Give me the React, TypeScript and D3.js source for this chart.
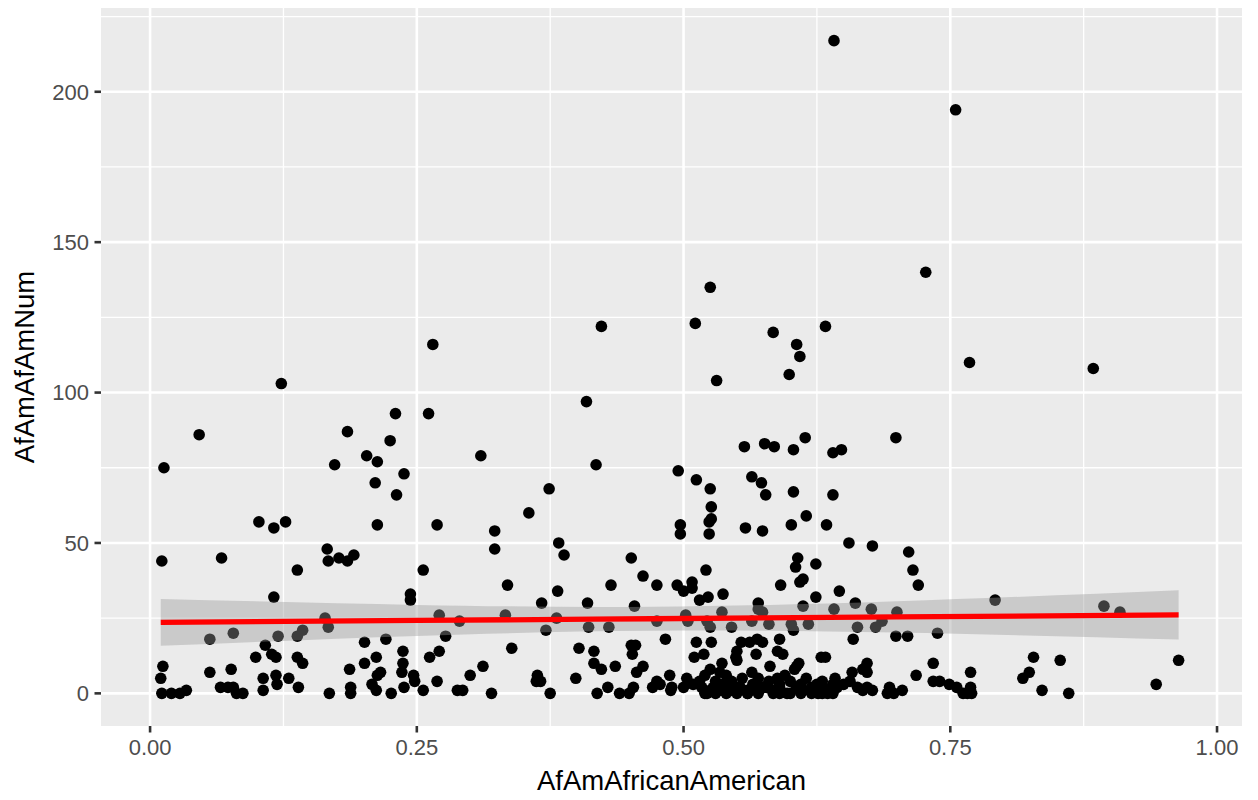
import React, { useEffect, useRef } from 'react';
import * as d3 from 'd3';

// share of African American residents (x) and count (y)
const afAmShare = [
  0.641, 0.755, 0.727, 0.525, 0.511, 0.423, 0.633, 0.584, 0.265, 0.606, 0.609, 0.768, 0.884, 0.599, 0.531, 0.123,
  0.046, 0.013, 0.102, 0.116, 0.127,
  0.230, 0.261, 0.185, 0.225, 0.203, 0.213, 0.173, 0.310, 0.238, 0.211, 0.231, 0.213, 0.269, 0.166,
  0.409, 0.418, 0.495, 0.374, 0.355, 0.323, 0.383, 0.497, 0.497, 0.323,
  0.557, 0.576, 0.585, 0.603, 0.614, 0.640, 0.648, 0.512, 0.525, 0.564, 0.573, 0.577, 0.603, 0.640, 0.526, 0.526,
  0.524, 0.524, 0.558, 0.574, 0.601, 0.615, 0.634, 0.655, 0.677,
  0.699,
  0.011, 0.067, 0.138, 0.116, 0.056, 0.078, 0.120, 0.138, 0.108, 0.114, 0.118, 0.099, 0.138, 0.012, 0.010, 0.056,
  0.076, 0.106, 0.118, 0.130, 0.119, 0.139, 0.106, 0.011, 0.020, 0.028, 0.034, 0.066, 0.073, 0.078, 0.081, 0.087,
  0.167, 0.177, 0.185, 0.191, 0.256, 0.244, 0.244, 0.164, 0.167, 0.143, 0.271, 0.290, 0.277, 0.271, 0.262, 0.201,
  0.221, 0.237, 0.212, 0.201, 0.237, 0.143, 0.187, 0.216, 0.213, 0.236, 0.247, 0.208, 0.238, 0.248, 0.256, 0.269,
  0.312, 0.300, 0.288, 0.293, 0.168, 0.188, 0.188, 0.212, 0.226, 0.320,
  0.388, 0.451, 0.462, 0.475, 0.494, 0.500, 0.335, 0.432, 0.382, 0.367, 0.410, 0.454, 0.333, 0.381, 0.371, 0.411,
  0.430, 0.475, 0.483, 0.339, 0.402, 0.416, 0.451, 0.455, 0.452, 0.416, 0.423, 0.436, 0.462, 0.456, 0.363, 0.366,
  0.362, 0.399, 0.429, 0.453, 0.375, 0.419, 0.440, 0.449, 0.471, 0.478, 0.487, 0.488, 0.475,
  0.607, 0.605, 0.624, 0.521, 0.508, 0.508, 0.591, 0.609, 0.612, 0.646, 0.624, 0.537, 0.523, 0.515, 0.570, 0.612,
  0.661, 0.641, 0.676, 0.570, 0.574, 0.536, 0.502, 0.504, 0.522, 0.525, 0.545, 0.564, 0.580, 0.601, 0.603, 0.617,
  0.663, 0.659, 0.512, 0.526, 0.569, 0.590, 0.554, 0.562, 0.574, 0.550, 0.568, 0.588, 0.510, 0.519, 0.549, 0.593,
  0.629, 0.633, 0.550, 0.536, 0.581, 0.606, 0.608, 0.672, 0.503, 0.525, 0.534, 0.564, 0.588, 0.604, 0.642, 0.658,
  0.668,
  0.489, 0.500, 0.509, 0.517, 0.522, 0.528, 0.534, 0.541, 0.545, 0.553, 0.560, 0.569, 0.578, 0.584, 0.590, 0.597,
  0.606, 0.612, 0.620, 0.626, 0.631, 0.637, 0.644, 0.650, 0.656, 0.663, 0.668, 0.672,
  0.515, 0.520, 0.525, 0.530, 0.535, 0.540, 0.545, 0.550, 0.555, 0.560, 0.565, 0.570, 0.575, 0.580, 0.585, 0.590,
  0.595, 0.600, 0.610, 0.615, 0.620, 0.625, 0.630, 0.635, 0.640, 0.520, 0.530, 0.540, 0.550, 0.560, 0.570, 0.590,
  0.600, 0.610, 0.620, 0.630, 0.640,
  0.711, 0.715, 0.720, 0.700, 0.686, 0.680, 0.792, 0.699, 0.710, 0.738, 0.672, 0.734, 0.718, 0.734, 0.740, 0.769,
  0.828, 0.853, 0.824, 0.818, 0.836, 0.677, 0.693, 0.691, 0.697, 0.705, 0.749, 0.756, 0.762, 0.769, 0.770, 0.766,
  0.894, 0.909, 0.861, 0.964, 0.943,
];

const afAmNum = [
  217, 194, 140, 135, 123, 122, 122, 120, 116, 116, 112, 110, 108, 106, 104, 103,
  86, 75, 57, 55, 57,
  93, 93, 87, 84, 79, 77, 76, 79, 73, 70, 66, 56, 56, 48,
  97, 76, 74, 68, 60, 54, 50, 56, 53, 48,
  82, 83, 82, 81, 85, 80, 81, 71, 68, 72, 70, 66, 67, 66, 62, 58,
  57, 53, 55, 54, 56, 59, 56, 50, 49,
  85,
  44, 45, 41, 32, 18, 20, 19, 19, 16, 13, 12, 12, 12, 9, 5, 7,
  8, 5, 6, 5, 3, 2, 1, 0, 0, 0, 1, 2, 2, 2, 0, 0,
  44, 45, 44, 46, 41, 33, 31, 25, 22, 21, 26, 24, 19, 14, 12, 17,
  18, 14, 12, 10, 10, 10, 8, 7, 6, 7, 6, 3, 2, 4, 1, 4,
  9, 6, 1, 1, 0, 2, 0, 1, 0, 0,
  46, 45, 39, 36, 36, 34, 36, 36, 34, 30, 30, 29, 26, 25, 21, 22,
  22, 24, 18, 15, 15, 14, 16, 16, 13, 10, 8, 9, 9, 7, 6, 4,
  4, 5, 2, 2, 0, 0, 0, 0, 2, 3, 6, 1, 4,
  45, 42, 43, 41, 37, 35, 36, 37, 38, 34, 32, 33, 32, 31, 30, 29,
  30, 28, 28, 28, 27, 27, 26, 24, 24, 22, 22, 24, 23, 23, 21, 23,
  22, 18, 17, 17, 18, 18, 17, 17, 17, 14, 13, 14, 12, 13, 12, 13,
  12, 12, 11, 10, 9, 9, 10, 10, 5, 8, 7, 7, 5, 8, 5, 7,
  8,
  2, 2, 3, 2, 0, 2, 1, 3, 1, 2, 0, 2, 2, 0, 2, 0,
  2, 1, 2, 0, 2, 1, 2, 3, 4, 2, 1, 2,
  4, 6, 1, 4, 3, 6, 4, 2, 5, 1, 3, 5, 2, 4, 1, 3,
  6, 4, 3, 5, 1, 3, 4, 0, 3, 0, 0, 0, 0, 0, 0, 0,
  0, 0, 0, 0, 0,
  47, 41, 36, 27, 24, 22, 31, 19, 19, 20, 7, 10, 6, 4, 4, 7,
  12, 11, 7, 5, 1, 1, 2, 0, 0, 1, 3, 2, 0, 2, 0, 0,
  29, 27, 0, 11, 3,
];

// lm smooth as drawn in the plot: fitted value and 95% band at a few x
const fitX = [0.010, 0.25, 0.47, 0.70, 0.964];
const fitMid = [23.6, 24.25, 24.8, 25.4, 26.1];
const fitLo = [15.8, 19.1, 20.8, 20.2, 17.9];
const fitHi = [31.4, 29.4, 28.8, 30.6, 34.3];

const xTicks = [0, 0.25, 0.5, 0.75, 1];
const yTicks = [0, 50, 100, 150, 200];
const xMinor = [0.125, 0.375, 0.625, 0.875];
const yMinor = [25, 75, 125, 175, 225];

const App: React.FC = () => {
  const svgRef = useRef<SVGSVGElement>(null);

  useEffect(() => {
    if (!svgRef.current) return;
    const svg = d3.select(svgRef.current);
    svg.selectAll('*').remove();

    const panel = { left: 101, right: 1242, top: 8, bottom: 726 };
    const font = '"Liberation Sans", Arial, Helvetica, sans-serif';

    const x = d3.scaleLinear().domain([-0.046, 1.0234]).range([panel.left, panel.right]);
    const y = d3.scaleLinear().domain([-10.85, 227.85]).range([panel.bottom, panel.top]);

    const pts = afAmShare.map((v, i) => ({ x: v, y: afAmNum[i] }));
    const fit = fitX.map((v, i) => ({ x: v, y: fitMid[i], lo: fitLo[i], hi: fitHi[i] }));

    svg.append('rect')
      .attr('x', panel.left).attr('y', panel.top)
      .attr('width', panel.right - panel.left).attr('height', panel.bottom - panel.top)
      .attr('fill', '#EBEBEB');

    // grid
    const grid = svg.append('g');
    grid.selectAll('.xm').data(xMinor).join('line')
      .attr('x1', d => x(d)).attr('x2', d => x(d))
      .attr('y1', panel.top).attr('y2', panel.bottom)
      .attr('stroke', '#fff').attr('stroke-width', 1.3);
    grid.selectAll('.ym').data(yMinor).join('line')
      .attr('y1', d => y(d)).attr('y2', d => y(d))
      .attr('x1', panel.left).attr('x2', panel.right)
      .attr('stroke', '#fff').attr('stroke-width', 1.3);
    grid.selectAll('.xM').data(xTicks).join('line')
      .attr('x1', d => x(d)).attr('x2', d => x(d))
      .attr('y1', panel.top).attr('y2', panel.bottom)
      .attr('stroke', '#fff').attr('stroke-width', 2.6);
    grid.selectAll('.yM').data(yTicks).join('line')
      .attr('y1', d => y(d)).attr('y2', d => y(d))
      .attr('x1', panel.left).attr('x2', panel.right)
      .attr('stroke', '#fff').attr('stroke-width', 2.6);

    // points
    svg.append('g').selectAll('circle').data(pts).join('circle')
      .attr('cx', d => x(d.x)).attr('cy', d => y(d.y))
      .attr('r', 5.8).attr('fill', '#000');

    // confidence band + fitted line
    svg.append('path')
      .datum(fit)
      .attr('d', d3.area<any>().curve(d3.curveNatural).x(d => x(d.x)).y0(d => y(d.lo)).y1(d => y(d.hi)))
      .attr('fill', '#999999').attr('fill-opacity', 0.4);

    svg.append('path')
      .datum(fit)
      .attr('d', d3.line<any>().curve(d3.curveNatural).x(d => x(d.x)).y(d => y(d.y)))
      .attr('fill', 'none').attr('stroke', '#FF0000').attr('stroke-width', 5.3);

    // axes
    const xa = svg.append('g');
    xa.selectAll('line').data(xTicks).join('line')
      .attr('x1', d => x(d)).attr('x2', d => x(d))
      .attr('y1', panel.bottom).attr('y2', panel.bottom + 6.5)
      .attr('stroke', '#333').attr('stroke-width', 2.6);
    xa.selectAll('text').data(xTicks).join('text')
      .attr('x', d => x(d)).attr('y', 755)
      .attr('text-anchor', 'middle')
      .attr('font-family', font).attr('font-size', 22).attr('fill', '#4D4D4D')
      .text(d => d3.format('.2f')(d));

    const ya = svg.append('g');
    ya.selectAll('line').data(yTicks).join('line')
      .attr('y1', d => y(d)).attr('y2', d => y(d))
      .attr('x1', panel.left - 6.5).attr('x2', panel.left)
      .attr('stroke', '#333').attr('stroke-width', 2.6);
    ya.selectAll('text').data(yTicks).join('text')
      .attr('x', 89).attr('y', d => y(d))
      .attr('dy', '0.36em')
      .attr('text-anchor', 'end')
      .attr('font-family', font).attr('font-size', 22).attr('fill', '#4D4D4D')
      .text(d => d);

    svg.append('text')
      .attr('x', (panel.left + panel.right) / 2).attr('y', 790)
      .attr('text-anchor', 'middle')
      .attr('font-family', font).attr('font-size', 27.5).attr('fill', '#000')
      .text('AfAmAfricanAmerican');

    svg.append('text')
      .attr('transform', `translate(34,${(panel.top + panel.bottom) / 2}) rotate(-90)`)
      .attr('text-anchor', 'middle')
      .attr('font-family', font).attr('font-size', 27.5).attr('fill', '#000')
      .text('AfAmAfAmNum');
  }, []);

  return (
    <svg
      ref={svgRef}
      width={1258}
      height={800}
      style={{ position: 'fixed', left: 0, top: 0, background: '#fff' }}
    />
  );
};

export default App;
